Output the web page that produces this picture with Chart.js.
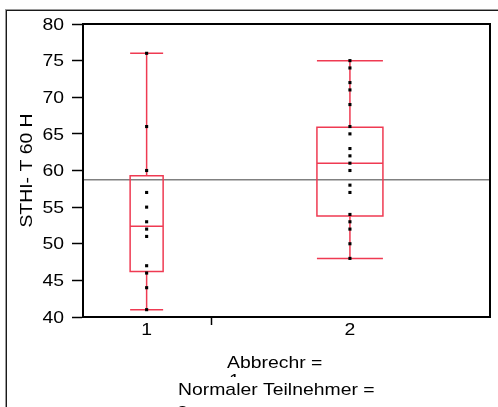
<!DOCTYPE html>
<html>
<head>
<meta charset="utf-8">
<script src="https://cdn.jsdelivr.net/npm/chart.js@4/dist/chart.umd.min.js"></script>
<style>
  html, body { margin: 0; padding: 0; background: #fff; }
  canvas { display: block; }
</style>
</head>
<body>
<canvas id="myChart" width="498" height="407"></canvas>
<script>
// Gruppen auf der x-Achse
const categories = [1, 2];
const extraTick = 1.32;

// Box-Statistiken
const whiskerLow = [41, 48];
const quartile1 = [46.2, 53.8];
const medians = [52.4, 61.0];
const quartile3 = [59.3, 65.9];
const whiskerHigh = [76, 75];

// Einzelwerte je Gruppe
const group1Values = [76, 66, 60, 57, 55, 53, 52, 51, 47, 46, 44, 41];
const group2Values = [75, 74, 72, 71, 69, 66, 65, 63, 62, 61, 60, 58, 57, 54, 53, 52, 50, 48];

// Referenzlinie (Gesamtmittel)
const referenceValue = 58.75;

const yTicks = [40, 45, 50, 55, 60, 65, 70, 75, 80];
const yTitle = 'STHI- T 60 H';

const FONT = '17px "Liberation Sans", Arial, sans-serif';
const STRETCH = 1.14;
const RED = '#ef3a52';

// Text leicht in die Breite gezogen, wie im Original
function stretchedText(ctx, text, x, y, align, baseline) {
  ctx.save();
  ctx.font = FONT;
  ctx.fillStyle = '#000';
  ctx.textAlign = align;
  ctx.textBaseline = baseline;
  ctx.translate(x, y);
  ctx.scale(STRETCH, 1);
  ctx.fillText(text, 0, 0);
  ctx.restore();
}

const boxPlugin = {
  id: 'boxes',
  beforeDatasetsDraw(chart) {
    const ctx = chart.ctx;
    const x = chart.scales.x;
    const y = chart.scales.y;
    const area = chart.chartArea;
    const halfWidths = [16.5, 33];

    // graue Referenzlinie
    ctx.save();
    ctx.strokeStyle = '#808080';
    ctx.lineWidth = 1.5;
    ctx.beginPath();
    ctx.moveTo(area.left, y.getPixelForValue(referenceValue));
    ctx.lineTo(area.right, y.getPixelForValue(referenceValue));
    ctx.stroke();

    ctx.strokeStyle = RED;
    ctx.lineWidth = 1.5;
    categories.forEach((c, i) => {
      const cx = x.getPixelForValue(c);
      const hw = halfWidths[i];
      const yl = y.getPixelForValue(whiskerLow[i]);
      const y1 = y.getPixelForValue(quartile1[i]);
      const ym = y.getPixelForValue(medians[i]);
      const y3 = y.getPixelForValue(quartile3[i]);
      const yh = y.getPixelForValue(whiskerHigh[i]);
      ctx.beginPath();
      // Whisker
      ctx.moveTo(cx, yh); ctx.lineTo(cx, y3);
      ctx.moveTo(cx, y1); ctx.lineTo(cx, yl);
      ctx.moveTo(cx - hw, yh); ctx.lineTo(cx + hw, yh);
      ctx.moveTo(cx - hw, yl); ctx.lineTo(cx + hw, yl);
      // Box + Median
      ctx.rect(cx - hw, y3, 2 * hw, y1 - y3);
      ctx.moveTo(cx - hw, ym); ctx.lineTo(cx + hw, ym);
      ctx.stroke();
    });
    ctx.restore();
  },
  afterDraw(chart) {
    const ctx = chart.ctx;
    const area = chart.chartArea;
    const xs = chart.scales.x;
    const ys = chart.scales.y;
    ctx.save();
    // Rahmen des Diagrammbereichs
    ctx.strokeStyle = '#000';
    ctx.lineWidth = 2;
    ctx.strokeRect(area.left, area.top, area.right - area.left, area.bottom - area.top);

    // äußerer Rahmen
    ctx.fillStyle = '#9a9a9a';
    ctx.fillRect(5, 9, 1, 407);
    ctx.fillRect(5, 9, 498, 1);
    ctx.fillStyle = '#1a1a1a';
    ctx.fillRect(6, 10, 1, 407);
    ctx.fillRect(6, 10, 498, 1);
    ctx.restore();

    // Achsenbeschriftungen aus den Skalen
    ys.ticks.forEach(t => {
      stretchedText(ctx, String(t.value), area.left - 19, ys.getPixelForValue(t.value) + 1, 'right', 'middle');
    });
    xs.ticks.forEach(t => {
      if (categories.includes(t.value)) {
        stretchedText(ctx, String(t.value), xs.getPixelForValue(t.value), area.bottom + 18, 'center', 'alphabetic');
      }
    });

    // y-Achsentitel
    ctx.save();
    ctx.translate(27, (area.top + area.bottom) / 2);
    ctx.rotate(-Math.PI / 2);
    stretchedText(ctx, yTitle, 0, 0, 'center', 'middle');
    ctx.restore();

    // x-Achsentitel (mehrzeilig, überlappend)
    stretchedText(ctx, 'Abbrechr =', 227, 368, 'left', 'alphabetic');
    ctx.save();
    ctx.beginPath();
    ctx.rect(0, 0, 498, 377);
    ctx.clip();
    stretchedText(ctx, '1', 229, 386, 'left', 'alphabetic');
    ctx.restore();
    stretchedText(ctx, 'Normaler Teilnehmer =', 178, 395, 'left', 'alphabetic');
    stretchedText(ctx, '2', 177, 418, 'left', 'alphabetic');
  }
};

new Chart(document.getElementById('myChart'), {
  type: 'scatter',
  data: {
    datasets: [
      {
        data: group1Values.map(v => ({ x: categories[0], y: v })),
        backgroundColor: '#000',
        borderWidth: 0,
        pointStyle: 'rect',
        pointRadius: 2.2
      },
      {
        data: group2Values.map(v => ({ x: categories[1], y: v })),
        backgroundColor: '#000',
        borderWidth: 0,
        pointStyle: 'rect',
        pointRadius: 2.2
      }
    ]
  },
  options: {
    responsive: false,
    animation: false,
    layout: { padding: { top: 24, right: 8, left: 0, bottom: 0 } },
    plugins: { legend: { display: false }, tooltip: { enabled: false } },
    scales: {
      x: {
        type: 'linear',
        min: 0.687,
        max: 2.689,
        afterBuildTicks: s => { s.ticks = [categories[0], extraTick, categories[1]].map(v => ({ value: v })); },
        afterFit: s => { s.height = 90; },
        ticks: { display: false },
        grid: {
          drawOnChartArea: false,
          tickLength: 8,
          tickWidth: 1.5,
          tickColor: c => (c.tick && c.tick.value === extraTick ? '#000' : 'rgba(0,0,0,0)')
        },
        border: { display: true, color: '#000', width: 2 }
      },
      y: {
        min: 40,
        max: 80,
        afterBuildTicks: s => { s.ticks = yTicks.map(v => ({ value: v })); },
        afterFit: s => { s.width = 83; },
        ticks: { display: false },
        grid: {
          drawOnChartArea: false,
          tickLength: 11,
          tickWidth: 1.5,
          tickColor: '#000'
        },
        border: { display: true, color: '#000', width: 2 }
      }
    }
  },
  plugins: [boxPlugin]
});
</script>
</body>
</html>
